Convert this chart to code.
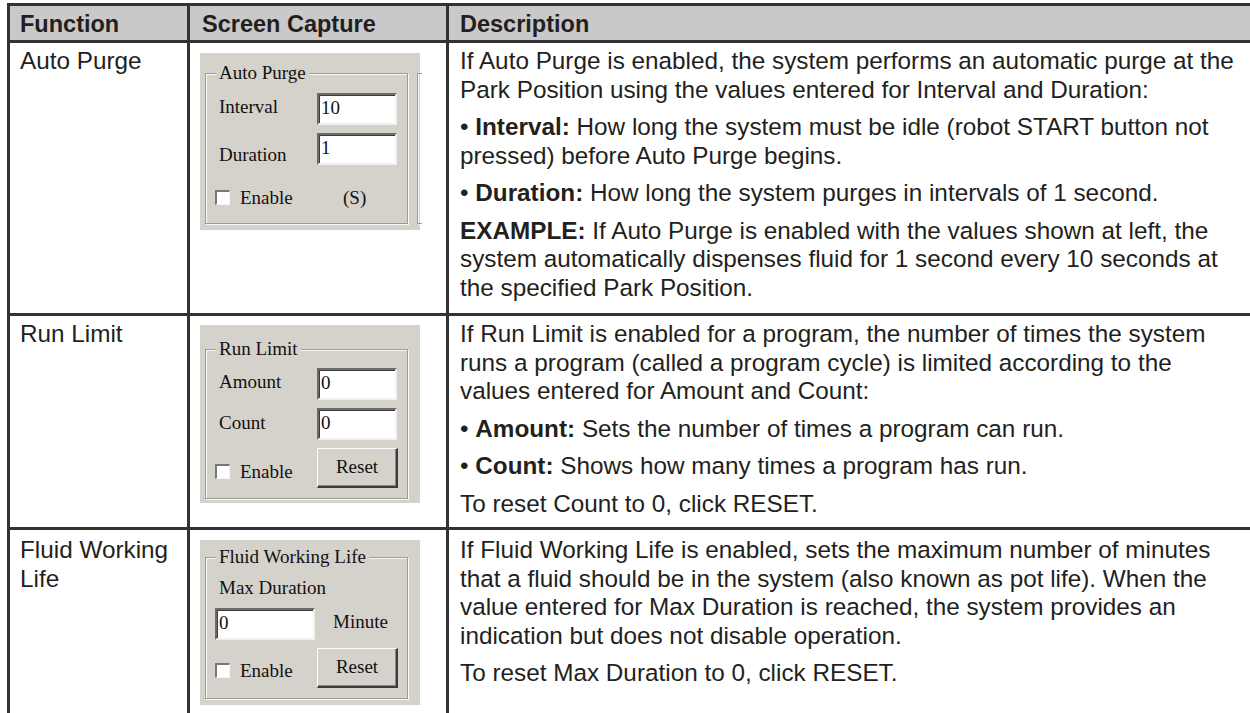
<!DOCTYPE html>
<html>
<head>
<meta charset="utf-8">
<script src="https://cdn.jsdelivr.net/npm/chart.js@4"></script>
<style>
  html, body { margin: 0; padding: 0; background: #fff; }
  body { width: 1250px; height: 713px; position: relative; overflow: hidden;
         font-family: "Liberation Sans", Arial, sans-serif; color: #231f20; }
  .abs { position: absolute; white-space: nowrap; }
  .rule { position: absolute; background: #333; }
  .hdr { font-weight: bold; font-size: 23.5px; line-height: 28px; }
  .cell { font-size: 24.3px; line-height: 28.5px; }
  .cell p { margin: 0 0 9px 0; }
  .cell b { font-weight: bold; }
  .panel { position: absolute; background: #d5d2cb; font-family: "Liberation Serif", "DejaVu Serif", serif;
           font-size: 19px; color: #111; }
  .group { position: absolute; border: 1px solid #9c9a95; box-shadow: 1px 1px 0 #fafafa, inset 1px 1px 0 #fafafa; }
  .legend { position: absolute; background: #d5d2cb; padding: 0 3px; line-height: 22px; }
  .lbl { position: absolute; line-height: 22px; white-space: nowrap; }
  .input { position: absolute; background: #fff; box-sizing: border-box;
           border-top: 2px solid #6b6b6b; border-left: 2px solid #6b6b6b;
           border-bottom: 2px solid #f2f1ee; border-right: 2px solid #f2f1ee;
           box-shadow: inset 1px 1px 0 #3c3c3c; padding-left: 2px; line-height: 26px; }
  .check { position: absolute; width: 15px; height: 15px; box-sizing: border-box; background: #fff;
           border-top: 2px solid #777; border-left: 2px solid #777;
           border-bottom: 1px solid #f4f4f4; border-right: 1px solid #f4f4f4; }
  .button { position: absolute; box-sizing: border-box; background: #d5d2cb; text-align: center;
            border-top: 1px solid #fdfdfd; border-left: 1px solid #fdfdfd;
            border-bottom: 2px solid #3c3c3c; border-right: 2px solid #3c3c3c;
            box-shadow: inset -1px -1px 0 #8a8a8a; }
</style>
</head>
<body>
<script>
// table content
const headers = ['Function', 'Screen Capture', 'Description'];
const functions = [['Auto Purge'], ['Run Limit'], ['Fluid Working', 'Life']];

// each description: paragraphs, each paragraph a list of lines (**bold** marks)
const descAutoPurge = [
  ['If Auto Purge is enabled, the system performs an automatic purge at the',
   'Park Position using the values entered for Interval and Duration:'],
  ['• **Interval:** How long the system must be idle (robot START button not',
   'pressed) before Auto Purge begins.'],
  ['• **Duration:** How long the system purges in intervals of 1 second.'],
  ['**EXAMPLE:** If Auto Purge is enabled with the values shown at left, the',
   'system automatically dispenses fluid for 1 second every 10 seconds at',
   'the specified Park Position.']
];
const descRunLimit = [
  ['If Run Limit is enabled for a program, the number of times the system',
   'runs a program (called a program cycle) is limited according to the',
   'values entered for Amount and Count:'],
  ['• **Amount:** Sets the number of times a program can run.'],
  ['• **Count:** Shows how many times a program has run.'],
  ['To reset Count to 0, click RESET.']
];
const descFluidLife = [
  ['If Fluid Working Life is enabled, sets the maximum number of minutes',
   'that a fluid should be in the system (also known as pot life). When the',
   'value entered for Max Duration is reached, the system provides an',
   'indication but does not disable operation.'],
  ['To reset Max Duration to 0, click RESET.']
];
const descriptions = [descAutoPurge, descRunLimit, descFluidLife];

// screen capture panels
const panelTitles = ['Auto Purge', 'Run Limit', 'Fluid Working Life'];
const panelLabels = [['Interval', 'Duration'], ['Amount', 'Count'], ['Max Duration']];
const panelValues = [['10', '1'], ['0', '0'], ['0']];
const panelExtras = [['(S)'], ['Reset'], ['Minute', 'Reset']];
const enableLabel = 'Enable';

// layout (px)
const vRules = [7, 187, 446];          // vertical border x
const hRules = [3, 40, 313, 527];      // horizontal border y
const rowBaselines = [70, 343, 559];   // first text baseline in each body row
const textX = [20, 202, 460];
const panelBoxes = [[200, 53, 220, 177], [200, 325, 220, 178], [200, 540, 220, 165]];

function el(cls, style, html) {
  const d = document.createElement('div');
  d.className = cls;
  Object.assign(d.style, style);
  if (html !== undefined) d.innerHTML = html;
  document.body.appendChild(d);
  return d;
}
const px = v => v + 'px';
const md = s => s.replace(/\*\*(.+?)\*\*/g, '<b>$1</b>');

// header band
el('abs', { left: px(vRules[0]), top: px(hRules[0]), width: px(1250), height: px(hRules[1] - hRules[0]), background: '#c9c9c9' });

// rules
hRules.forEach(y => el('rule', { left: px(vRules[0]), top: px(y), width: px(1250), height: '3px' }));
vRules.forEach(x => el('rule', { left: px(x), top: px(hRules[0]), width: '3px', height: px(713) }));

// header text (baseline ~32)
headers.forEach((h, i) => el('abs hdr', { left: px(textX[i]), top: px(32 - 21.7) }, h));

// body rows
const baseOff = (28.5 - 1.117 * 24.3) / 2 + 0.905 * 24.3;
functions.forEach((lines, r) => {
  el('abs cell', { left: px(textX[0]), top: px(rowBaselines[r] - baseOff) }, lines.join('<br>'));
  const html = descriptions[r].map(p => '<p>' + p.map(md).join('<br>') + '</p>').join('');
  el('abs cell', { left: px(textX[2]), top: px(rowBaselines[r] - baseOff) }, html);
});

// panels
function panel(i) {
  const [x, y, w, h] = panelBoxes[i];
  const p = el('panel', { left: px(x), top: px(y), width: px(w), height: px(h) });
  const add = (cls, style, html) => {
    const d = document.createElement('div');
    d.className = cls; Object.assign(d.style, style);
    if (html !== undefined) d.textContent = html;
    p.appendChild(d); return d;
  };
  const gTop = [20, 24, 17][i], gBot = [169, 172, 157][i];
  add('group', { left: '5px', top: px(gTop), width: px(201), height: px(gBot - gTop) });
  if (i === 0) add('group', { left: '217px', top: px(gTop), width: '4px', height: px(gBot - gTop), borderRight: 'none' });
  add('legend', { left: '16px', top: px(gTop - 11) }, panelTitles[i]);
  if (i < 2) {
    const rows = i === 0 ? [[54, 40], [102, 80]] : [[57, 43], [98, 83]];
    rows.forEach(([cy, iy], k) => {
      add('lbl', { left: '19px', top: px(cy - 11) }, panelLabels[i][k]);
      add('input', { left: '117px', top: px(iy), width: '80px', height: '32px' }, panelValues[i][k]);
    });
  } else {
    add('lbl', { left: '19px', top: px(48 - 11) }, panelLabels[i][0]);
    add('input', { left: '15px', top: '68px', width: '100px', height: '32px' }, panelValues[i][0]);
    add('lbl', { left: '133px', top: px(82 - 11) }, panelExtras[i][0]);
  }
  const cy = [145, 147, 131][i];
  add('check', { left: '15px', top: px(cy - 8) });
  add('lbl', { left: '40px', top: px(cy - 11) }, enableLabel);
  if (i === 0) {
    add('lbl', { left: '143px', top: px(cy - 11) }, panelExtras[0][0]);
  } else {
    const by = [0, 123, 108][i];
    add('button', { left: '117px', top: px(by), width: '81px', height: '40px', lineHeight: '36px' }, panelExtras[i][panelExtras[i].length - 1]);
  }
}
panelTitles.forEach((_, i) => panel(i));
</script>
</body>
</html>
